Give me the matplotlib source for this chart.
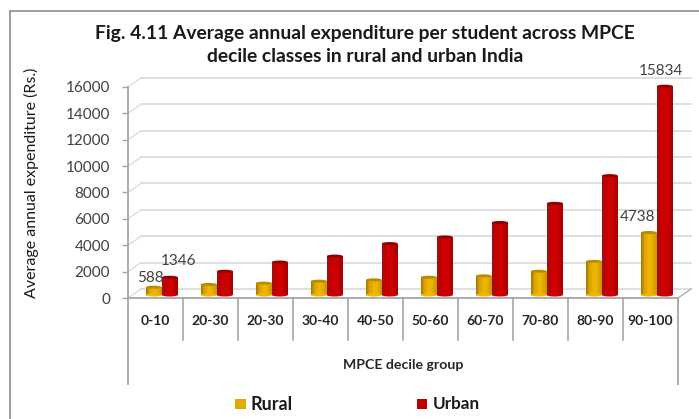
import numpy as np
import matplotlib
matplotlib.use('Agg')
import matplotlib.pyplot as plt
from matplotlib.patches import Ellipse, Rectangle
from matplotlib.transforms import Affine2D
from matplotlib.colors import LinearSegmentedColormap

groups = ['0-10', '20-30', '20-30', '30-40', '40-50', '50-60', '60-70', '70-80', '80-90', '90-100']
rural = [588, 800, 900, 1050, 1150, 1350, 1450, 1800, 2550, 4738]
urban = [1346, 1800, 2500, 2950, 3900, 4400, 5500, 6950, 9050, 15834]
yticks = [0, 2000, 4000, 6000, 8000, 10000, 12000, 14000, 16000]

W, H = 699, 419
plt.rcParams['font.family'] = ['Lato', 'DejaVu Sans']

fig = plt.figure(figsize=(W / 100, H / 100), dpi=100)

# front plane of the fake 3d box, in pixels
left, right, top, bottom = 128, 678, 87, 298
ax = fig.add_axes([left / W, 1 - bottom / H, (right - left) / W, (bottom - top) / H])
ax.set_xlim(0, 10)
ax.set_ylim(0, 16000)
ax.patch.set_alpha(0)
for s in ax.spines.values():
    s.set_visible(False)

# transforms that shift things back into the box
wall = ax.transData + Affine2D().translate(13, 9)
bars = ax.transData + Affine2D().translate(6.3, 3)

# outer frame, open on the right and bottom
fig.add_artist(plt.Line2D([10 / W, 10 / W], [0, 1 - 11 / H], color='#8c8c8c', lw=1.2))
fig.add_artist(plt.Line2D([10 / W, 1], [1 - 11 / H, 1 - 11 / H], color='#8c8c8c', lw=1.2))

# back wall gridlines and the slanted side bits
for t in yticks:
    ax.plot([0, 10], [t, t], color='#d9d9d9', lw=1.2, transform=wall, clip_on=False, zorder=1)
    x0, y0 = ax.transData.transform((0, t))
    ax.plot([x0, x0 + 13], [y0, y0 + 9], color='#d9d9d9', lw=0.9, transform=None, clip_on=False, zorder=1)
x0, y0 = ax.transData.transform((10, 0))
ax.plot([x0, x0 + 13], [y0, y0 + 9], color='#a6a6a6', lw=0.9, transform=None, clip_on=False, zorder=1)

red_cm = LinearSegmentedColormap.from_list('r', ['#9c1010', '#c40000', '#d00000', '#c80000', '#a80000'])
gold_cm = LinearSegmentedColormap.from_list('g', ['#a87c00', '#dca400', '#f0b800', '#e8b000', '#c89400'])


def cylinder(xc, val, w, cm, cap, z):
    # one cylinder as thin gradient slices with an ellipse on each end
    n = 14
    edges = np.linspace(xc - w / 2, xc + w / 2, n + 1)
    for i in range(n):
        ax.bar(edges[i], val, width=edges[i + 1] - edges[i], align='edge', color=cm(i / (n - 1)),
               lw=0, transform=bars, zorder=z, clip_on=False)
    ax.add_patch(Ellipse((xc, 0), w, 230, color=cm(0.5), lw=0, transform=bars, zorder=z, clip_on=False))
    ax.add_patch(Ellipse((xc, val), w, 230, color=cap, lw=0, transform=bars, zorder=z + 0.1, clip_on=False))


w = 0.29
for i in range(len(groups)):
    cylinder(i + 0.5 - w / 2, rural[i], w, gold_cm, '#b98c00', 3 + i * 0.01)
    cylinder(i + 0.5 + w / 2, urban[i], w, red_cm, '#900000', 4 + i * 0.01)

# axis lines, category dividers reach down below the plot
axc = '#a6a6a6'
ax.plot([0, 0], [0, 16000], color=axc, lw=1.3, clip_on=False, zorder=5)
ax.plot([0, 10], [0, 0], color=axc, lw=1.3, clip_on=False, zorder=5)
for i in range(1, 10):
    ax.plot([i, i], [0, -3200], color=axc, lw=1.2, clip_on=False, zorder=5)
ax.plot([0, 0], [0, -6500], color=axc, lw=1.3, clip_on=False, zorder=5)
ax.plot([10, 10], [0, -6500], color=axc, lw=1.3, clip_on=False, zorder=5)

ax.set_yticks(yticks)
ax.set_yticklabels([str(t) for t in yticks], fontsize=11, color='#404040')
ax.tick_params(axis='y', length=4, width=1, color=axc, pad=9)
ax.set_xticks(np.arange(10) + 0.5)
ax.set_xticklabels(groups, fontsize=10, fontweight='bold', color='#262626')
ax.tick_params(axis='x', length=0, pad=12)

# value labels only on first and last groups
lab = dict(fontsize=11, color='#404040', ha='center', va='center', annotation_clip=False)
ax.annotate(str(rural[0]), (0.5, rural[0]), xytext=(-3.6, 8.8), textcoords='offset points', **lab)
ax.annotate(str(urban[0]), (0.5, urban[0]), xytext=(16.3, 13.6), textcoords='offset points', **lab)
ax.annotate(str(rural[9]), (9.5, rural[9]), xytext=(-9.3, 13.6), textcoords='offset points', **lab)
ax.annotate(str(urban[9]), (9.5, urban[9]), xytext=(7.5, 13.3), textcoords='offset points', **lab)

fig.text(365 / W, 1 - 33 / H, 'Fig. 4.11 Average annual expenditure per student across MPCE', fontsize=13.9,
         fontweight='bold', ha='center', va='center', color='#1a1a1a')
fig.text(365 / W, 1 - 57 / H, 'decile classes in rural and urban India', fontsize=13.9,
         fontweight='bold', ha='center', va='center', color='#1a1a1a')
fig.text(31 / W, 1 - 183 / H, 'Average annual expenditure (Rs.)', fontsize=11.5, rotation=90,
         ha='center', va='center', color='#1a1a1a')
fig.text(403 / W, 1 - 365 / H, 'MPCE decile group', fontsize=10.2, fontweight='bold',
         ha='center', va='center', color='#262626')

# legend by hand, it sits wide apart at the bottom
fig.add_artist(Rectangle((235 / W, 1 - 409 / H), 11 / W, 10 / H, color='#e0aa00', lw=0, transform=fig.transFigure))
fig.add_artist(Rectangle((417 / W, 1 - 409 / H), 10 / W, 10 / H, color='#c00000', lw=0, transform=fig.transFigure))
fig.text(251 / W, 1 - 404 / H, 'Rural', fontsize=13, fontweight='bold', va='center', color='#1a1a1a')
fig.text(433 / W, 1 - 404 / H, 'Urban', fontsize=12.3, fontweight='bold', va='center', color='#1a1a1a')

fig.savefig('out.png', dpi=100)
